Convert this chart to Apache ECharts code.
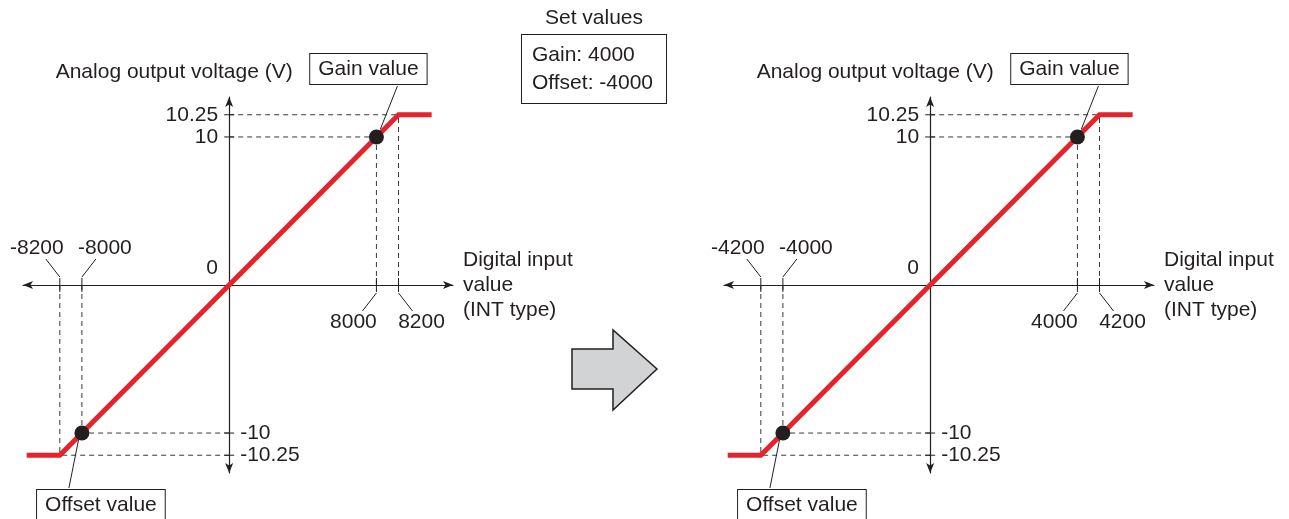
<!DOCTYPE html>
<html>
<head>
<meta charset="utf-8">
<title>Analog output characteristic: gain and offset</title>
<script src="https://cdn.jsdelivr.net/npm/echarts@6/dist/echarts.min.js"></script>
<style>
  html, body { margin: 0; padding: 0; background: #fff; }
  #chart { width: 1289px; height: 519px; }
</style>
</head>
<body>
<div id="chart"></div>
<script>
// output voltage along the characteristic (same for both panels)
const voltY = [-10.25, -10.25, -10, 0, 10, 10.25, 10.25]
// digital input along the characteristic, before / after setting the values
const beforeX = [-8500, -8200, -8000, 0, 8000, 8200, 8500]
const afterX = [-4500, -4200, -4000, 0, 4000, 4200, 4500]

const beforeXTicks = [-8200, -8000, 0, 8000, 8200]
const afterXTicks = [-4200, -4000, 0, 4000, 4200]
const voltTicks = [-10.25, -10, 10, 10.25]

// [digital, voltage] of offset and gain points
const beforePoints = [[-8000, -10], [8000, 10]]
const afterPoints = [[-4000, -10], [4000, 10]]
const pointNames = ['Offset value', 'Gain value']
// where the output clamps
const beforeLimits = [[-8200, -10.25], [8200, 10.25]]
const afterLimits = [[-4200, -10.25], [4200, 10.25]]

const setValueLines = ['Gain: 4000', 'Offset: -4000']

const FONT = '"Liberation Sans", Arial, Helvetica, sans-serif'
const INK = '#231f20'
const RED = '#e5232b'
const FS = 21

// schematic axis: linear up to the gain/offset, the small clamp margin drawn wider
const MARGIN = 0.15
function warp(v, knee, limit) {
  const a = Math.abs(v)
  if (a <= knee) return v / knee
  return Math.sign(v) * (1 + (a - knee) / (limit - knee) * MARGIN)
}

function txt(text, extra) {
  return Object.assign({text: text, fontSize: FS, fontFamily: FONT, fill: INK}, extra)
}
const thin = {stroke: INK, lineWidth: 1}

function dashRender(params, api) {
  const a = api.coord([api.value(0), api.value(1)])
  const b = api.coord([api.value(2), api.value(3)])
  return {
    type: 'line',
    shape: {x1: a[0], y1: a[1], x2: b[0], y2: b[1]},
    style: {stroke: '#3a3a3a', lineWidth: 1, lineDash: [5, 4]}
  }
}

function xTickRender(ticks, knee) {
  return function (params, api) {
    const v = ticks[params.dataIndex]
    const p = api.coord([api.value(0), 0])
    const x = p[0], y = p[1]
    if (v === 0) {
      return {type: 'text', x: x - 17, y: y - 17, style: txt('0', {align: 'center', verticalAlign: 'middle'})}
    }
    const d = v > 0 ? 1 : -1
    const s = (Math.abs(v) > knee ? 1 : -1) * Math.sign(v)
    return {
      type: 'group',
      children: [
        {type: 'line', shape: {x1: x, y1: y - 7, x2: x, y2: y + 7}, style: thin},
        {type: 'line', shape: {x1: x, y1: y + d * 8, x2: x + s * 14, y2: y + d * 26}, style: thin},
        {type: 'text', x: x + s * 23, y: y + d * 37,
          style: txt(String(v), {align: 'center', verticalAlign: 'middle'})}
      ]
    }
  }
}

function yTickRender(ticks) {
  return function (params, api) {
    const v = ticks[params.dataIndex]
    const p = api.coord([0, api.value(1)])
    const x = p[0], y = p[1]
    return {
      type: 'group',
      children: [
        {type: 'line', shape: {x1: x - 5, y1: y, x2: x + 5, y2: y}, style: thin},
        {type: 'text', x: v > 0 ? x - 11 : x + 11, y: y,
          style: txt(String(v), {align: v > 0 ? 'right' : 'left', verticalAlign: 'middle'})}
      ]
    }
  }
}

// leader line and label box placement, relative to the marked point
const calloutLayout = [
  {lead: [-3, 5, -13, 55], box: [19, 72]},
  {lead: [4, -8, 21, -51], box: [-8, -68]}
]
function calloutRender(params, api) {
  const L = calloutLayout[params.dataIndex]
  const p = api.coord([api.value(0), api.value(1)])
  return {
    type: 'group',
    children: [
      {type: 'line', shape: {x1: p[0] + L.lead[0], y1: p[1] + L.lead[1], x2: p[0] + L.lead[2], y2: p[1] + L.lead[3]}, style: thin},
      {type: 'text', x: p[0] + L.box[0], y: p[1] + L.box[1],
        style: txt(pointNames[params.dataIndex], {
          align: 'center', verticalAlign: 'middle',
          backgroundColor: '#fff', borderColor: INK, borderWidth: 1, padding: [5, 8, 4, 8]
        })}
    ]
  }
}

function axesFor(i) {
  const line = {onZero: true, symbol: ['arrow', 'arrow'], symbolSize: [6, 10], lineStyle: {color: INK, width: 1.2}}
  const off = {axisTick: {show: false}, axisLabel: {show: false}, splitLine: {show: false}}
  return {
    x: Object.assign({
      gridIndex: i, type: 'value', min: -1.4, max: 1.52, axisLine: line,
      name: 'Digital input\nvalue\n(INT type)', nameLocation: 'end', nameGap: 10,
      nameTextStyle: {fontSize: FS, fontFamily: FONT, color: INK, lineHeight: 25, align: 'left', verticalAlign: 'middle'}
    }, off),
    y: Object.assign({
      gridIndex: i, type: 'value', min: -1.27, max: 1.27, axisLine: line,
      name: 'Analog output voltage (V)', nameLocation: 'end', nameGap: 14,
      nameTextStyle: {fontSize: FS, fontFamily: FONT, color: INK, align: 'center', verticalAlign: 'bottom', padding: [0, 110, 0, 0]}
    }, off)
  }
}

function panel(i, curveX, xTicks, points, limits) {
  const kx = points[1][0], ky = points[1][1]
  const lx = limits[1][0], ly = limits[1][1]
  const wx = v => warp(v, kx, lx), wy = v => warp(v, ky, ly)
  const ax = {xAxisIndex: i, yAxisIndex: i}
  const guides = []
  points.concat(limits).forEach(([x, y]) => {
    guides.push([0, wy(y), wx(x), wy(y)])
    guides.push([wx(x), 0, wx(x), wy(y)])
  })
  return [
    Object.assign({type: 'custom', data: guides, renderItem: dashRender, z: 1, silent: true, clip: false}, ax),
    Object.assign({
      type: 'line', data: curveX.map((x, j) => [wx(x), wy(voltY[j])]), symbol: 'none',
      lineStyle: {color: RED, width: 5, join: 'miter'}, z: 3, silent: true
    }, ax),
    Object.assign({
      type: 'scatter', data: points.map(([x, y]) => [wx(x), wy(y)]),
      symbolSize: 15, itemStyle: {color: INK, opacity: 1}, z: 4, silent: true
    }, ax),
    Object.assign({type: 'custom', data: xTicks.map(v => [wx(v), 0]), renderItem: xTickRender(xTicks, kx), z: 5, silent: true, clip: false}, ax),
    Object.assign({type: 'custom', data: voltTicks.map(v => [0, wy(v)]), renderItem: yTickRender(voltTicks), z: 5, silent: true, clip: false}, ax),
    Object.assign({type: 'custom', data: points.map(([x, y]) => [wx(x), wy(y)]), renderItem: calloutRender, z: 6, silent: true, clip: false}, ax)
  ]
}

const a0 = axesFor(0), a1 = axesFor(1)
const chart = echarts.init(document.getElementById('chart'))
chart.setOption({
  animation: false,
  textStyle: {fontFamily: FONT},
  grid: [
    {left: 23, top: 97, width: 430, height: 376, outerBoundsMode: 'none'},
    {left: 724, top: 97, width: 430, height: 376, outerBoundsMode: 'none'}
  ],
  xAxis: [a0.x, a1.x],
  yAxis: [a0.y, a1.y],
  series: [].concat(
    panel(0, beforeX, beforeXTicks, beforePoints, beforeLimits),
    panel(1, afterX, afterXTicks, afterPoints, afterLimits)
  ),
  graphic: [
    {type: 'text', x: 594, y: 18, style: txt('Set values', {align: 'center', verticalAlign: 'middle'})},
    {type: 'text', x: 522, y: 35, style: txt(setValueLines.join('\n'), {
      align: 'left', verticalAlign: 'top', lineHeight: 28,
      borderColor: INK, borderWidth: 1, backgroundColor: '#fff', padding: [6, 13, 6, 10]
    })},
    {type: 'polygon', shape: {points: [[572, 349], [613, 349], [613, 330], [657, 369], [613, 410], [613, 389], [572, 389]]},
      style: {fill: '#d1d3d4', stroke: INK, lineWidth: 1.5}}
  ]
})
</script>
</body>
</html>
